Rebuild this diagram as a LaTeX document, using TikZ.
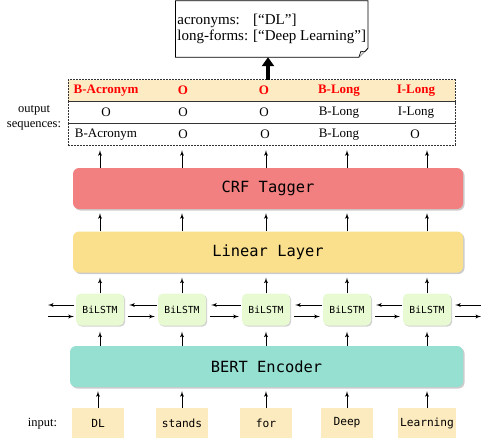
\documentclass[tikz,border=0pt]{standalone}
\usepackage{fontspec}
\setmainfont{Liberation Serif}
\setmonofont{DejaVu Sans Mono}
\usepackage{tikz}
\usetikzlibrary{arrows}
\usetikzlibrary{arrows.meta}
\usetikzlibrary{positioning}
\usetikzlibrary{shadows}
\definecolor{crfred}{RGB}{242,128,128}
\definecolor{linyellow}{RGB}{250,224,140}
\definecolor{bertgreen}{RGB}{150,224,210}
\definecolor{lstmgreen}{RGB}{232,250,210}
\definecolor{wordfill}{RGB}{253,235,192}
\definecolor{rowfill}{RGB}{253,235,196}
\tikzstyle{line} = [draw, -latex', line width=0.9pt]
\tikzset{
    layer/.style={fill=#1, rounded corners=6pt, minimum width=390pt,
        minimum height=41pt, inner sep=0pt,
        font=\ttfamily\fontsize{15.4}{18}\selectfont,
        drop shadow={shadow xshift=1.5pt, shadow yshift=-1.5pt, fill=black!40}},
    lstm/.style={fill=lstmgreen, rounded corners=5pt, minimum width=48pt,
        minimum height=32pt, inner sep=0pt,
        font=\ttfamily\fontsize{9.7}{11}\selectfont,
        drop shadow={shadow xshift=1.2pt, shadow yshift=-1.2pt, fill=black!35}},
    word/.style={fill=wordfill, minimum width=52pt, minimum height=30pt,
        inner sep=2pt, font=\ttfamily\fontsize{11.2}{13}\selectfont},
    seqrow/.style={draw=black!80, dash pattern=on 2pt off 1pt, line width=0.7pt,
        minimum width=387pt, minimum height=21.8pt, inner sep=0pt, outer sep=0pt},
    tag/.style={inner sep=0pt, font=\fontsize{13}{15}\selectfont},
    besttag/.style={tag, text=red, font=\bfseries\fontsize{13}{15}\selectfont},
    lbl/.style={inner sep=0pt, font=\fontsize{12.5}{15}\selectfont},
    notebox/.style={minimum width=192pt, minimum height=56pt, inner sep=0pt,
        font=\fontsize{15}{16.6}\selectfont},
}

\begin{document}
\begin{tikzpicture}[x=1pt, y=-1pt]
	\useasboundingbox (0,0) rectangle (481,441);
	% result box
	\node[notebox] (note) at (271.7,29) {\begin{tabular}{@{}l@{ }l@{}}
		acronyms: & [``DL'']\\
		long-forms: & [``Deep Learning'']
	\end{tabular}};
	\draw[line width=0.8pt] (note.north west) -- (note.north east)
		-- ([yshift=9pt]note.south east) -- ([xshift=-9pt]note.south east)
		-- (note.south west) -- cycle;
	\draw[line width=0.6pt, fill=black!12] ([yshift=9pt]note.south east)
		.. controls ([xshift=-3pt,yshift=5pt]note.south east) .. ([xshift=-7pt,yshift=6pt]note.south east)
		-- ([xshift=-9pt]note.south east);
	% output sequences
	\node[seqrow, fill=rowfill] (row1) at (261.4,90.7) {};
	\node[seqrow, below=0pt of row1] (row2) {};
	\node[seqrow, below=0pt of row2] (row3) {};
	\foreach \x/\t [count=\i] in {106/B-Acronym,183/O,264/O,339/B-Long,416/I-Long}
		\node[besttag] (a\i) at (\x,90.7) {\t};
	\foreach \x/\t [count=\i] in {106/O,183/O,264/O,339/B-Long,416/I-Long}
		\node[tag] (b\i) at (\x,112.7) {\t};
	\foreach \x/\t [count=\i] in {106/B-Acronym,183/O,265/O,339/B-Long,415/O}
		\node[tag] (c\i) at (\x,134.5) {\t};
	\node[lbl, align=center] (outlbl) at (34,117.5) {output\\sequences:};
	\draw[line width=4pt, -{Triangle[length=9pt,width=12pt]}]
		(row1.north -| 268,0) -- (note.south -| 268,0);
	% layers
	\node[layer=crfred] (crf) at (268,188.5) {CRF Tagger};
	\node[layer=linyellow] (linear) at (268,252) {Linear Layer};
	\node[layer=bertgreen, minimum width=393pt] (bert) at (266.5,366.5) {BERT Encoder};
	\foreach \x [count=\i] in {100,182,266,347,427}
		\node[lstm] (lstm\i) at (\x,309.5) {BiLSTM};
	% input words
	\node[lbl] (inlbl) at (42.5,424) {input:};
	\foreach \x/\t [count=\i] in {98/DL,182/stands,266/for,347/Deep,427/Learning}
		\node[word] (in\i) at (\x,423) {\t};
	% vertical arrows
	\foreach \i in {1,...,5} {
		\draw[line, shorten >=4pt] (in\i.north) -- (bert.south -| in\i);
		\draw[line, shorten >=6pt] (bert.north -| lstm\i) -- (lstm\i.south);
		\draw[line, shorten >=5pt] (lstm\i.north) -- (linear.south -| lstm\i);
		\draw[line, shorten >=4pt] (linear.north -| lstm\i) -- (crf.south -| lstm\i);
		\draw[line, shorten >=5pt] (crf.north -| lstm\i) -- (row3.south -| lstm\i);
	}
	% recurrent arrows
	\coordinate (lend) at (48,309.5);
	\coordinate (rend) at (481,309.5);
	\draw[line, shorten <=2pt] ([yshift=4.5pt]lstm1.west) -- ([yshift=4.5pt]lend);
	\draw[line, shorten >=2pt] ([yshift=-7pt]lend) -- ([yshift=-7pt]lstm1.west);
	\foreach \i/\j in {1/2,2/3,3/4,4/5} {
		\draw[line, shorten <=1pt, shorten >=5pt] ([yshift=4.5pt]lstm\j.west) -- ([yshift=4.5pt]lstm\i.east);
		\draw[line, shorten <=4pt, shorten >=3pt] ([yshift=-7pt]lstm\i.east) -- ([yshift=-7pt]lstm\j.west);
	}
	\draw[line, shorten >=4pt] ([yshift=4.5pt]rend) -- ([yshift=4.5pt]lstm5.east);
	\draw[line, shorten <=4pt] ([yshift=-7pt]lstm5.east) -- ([yshift=-7pt]rend);
\end{tikzpicture}
\end{document}
